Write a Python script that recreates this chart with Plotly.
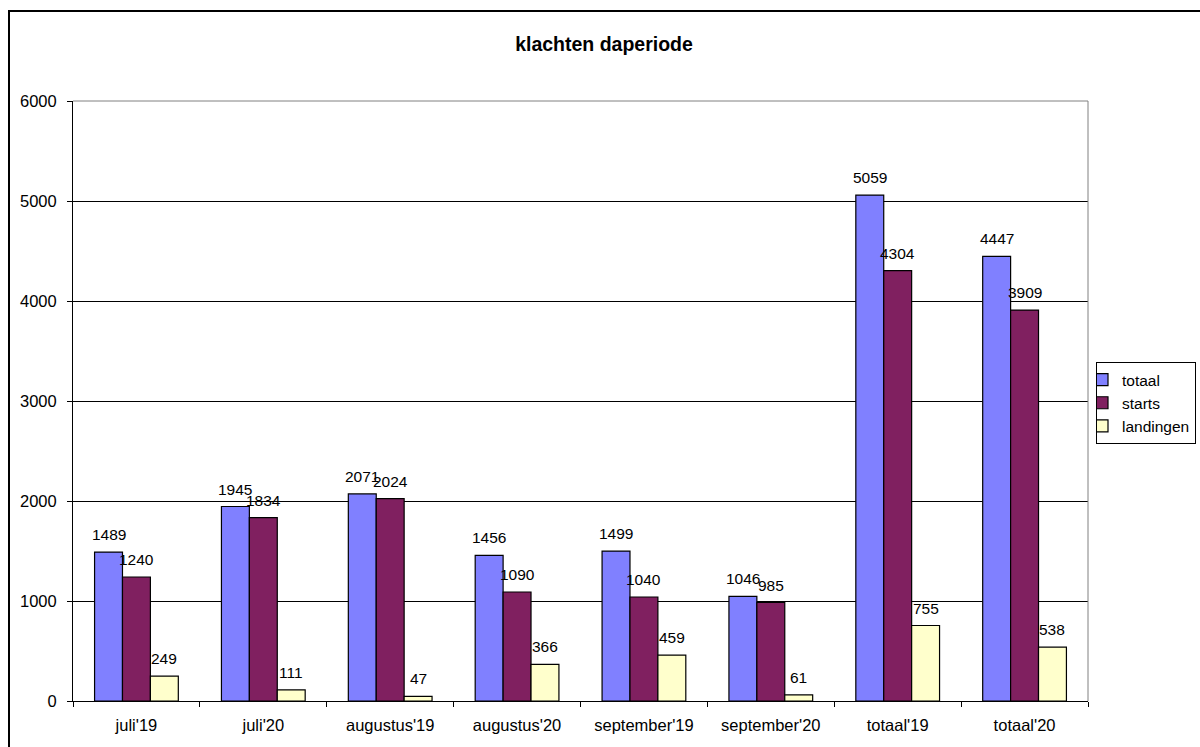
import plotly.graph_objects as go

categories = ["juli'19", "juli'20", "augustus'19", "augustus'20",
              "september'19", "september'20", "totaal'19", "totaal'20"]
totaal = [1489, 1945, 2071, 1456, 1499, 1046, 5059, 4447]
starts = [1240, 1834, 2024, 1090, 1040, 985, 4304, 3909]
landingen = [249, 111, 47, 366, 459, 61, 755, 538]

series = [("totaal", totaal, "#8080FF"),
          ("starts", starts, "#802060"),
          ("landingen", landingen, "#FFFFCC")]

FONT = "Liberation Sans, Arial, sans-serif"

W, H = 1200, 747
PX0, PX1, PY0, PY1 = 73, 1088, 101, 701   # plot area in page pixels
L, R, T, B = PX0, W - PX1, PY0, H - PY1
pw, ph = PX1 - PX0, PY1 - PY0

def px(x):
    return (x - PX0) / pw

def py(y):
    return (PY1 - y) / ph

BARGAP = 0.34
n = len(series)
bw = (1 - BARGAP) / n

fig = go.Figure()
annotations = []
for k, (name, vals, color) in enumerate(series):
    fig.add_trace(go.Bar(
        name=name, x=categories, y=vals,
        marker=dict(color=color, line=dict(color="black", width=1.2)),
    ))
    off = (k - (n - 1) / 2) * bw
    for i, v in enumerate(vals):
        annotations.append(dict(
            x=i + off, y=v, xref="x", yref="y", text=str(v), showarrow=False,
            yanchor="bottom", xanchor="center", yshift=7,
            font=dict(family=FONT, size=15.5, color="black")))

fig.update_layout(
    width=W, height=H,
    margin=dict(l=L, r=R, t=T, b=B, autoexpand=False),
    paper_bgcolor="white", plot_bgcolor="white",
    barmode="group", bargap=BARGAP, bargroupgap=0,
    font=dict(family=FONT, size=16, color="black"),
    title=dict(text="<b>klachten daperiode</b>", x=604 / W, xref="container",
               xanchor="center", y=1 - 44 / H, yanchor="middle",
               font=dict(family=FONT, size=19.5, color="black")),
    showlegend=True,
    legend=dict(x=px(1096), y=py(362), xanchor="left", yanchor="top",
                bordercolor="black", borderwidth=1, bgcolor="white",
                font=dict(family=FONT, size=15.5, color="black"),
                indentation=-15),
    xaxis=dict(type="category", showline=True, linecolor="black", linewidth=1,
               ticks="outside", ticklen=5, tickcolor="black", tickson="boundaries",
               ticklabelstandoff=9,
               showgrid=False, tickfont=dict(family=FONT, size=16.5, color="black")),
    yaxis=dict(range=[0, 6000], dtick=1000, showline=True, linecolor="black", linewidth=1,
               ticks="outside", ticklen=5, tickcolor="black", ticklabelstandoff=7,
               showgrid=True, gridcolor="black", gridwidth=1, zeroline=False,
               tickfont=dict(family=FONT, size=16.5, color="black")),
    annotations=annotations,
    shapes=[
        dict(type="path", xref="paper", yref="paper", path="M 0,1 L 1,1 L 1,0",
             line=dict(color="#808080", width=1), layer="above"),
        dict(type="rect", xref="paper", yref="paper",
             x0=px(9), x1=px(1230), y0=py(780), y1=py(11),
             line=dict(color="black", width=2), fillcolor="rgba(0,0,0,0)", layer="above"),
    ],
)

fig.write_html("out.html", config={"displayModeBar": False},
               post_script="document.body.style.margin='0';document.body.style.overflow='hidden';")
